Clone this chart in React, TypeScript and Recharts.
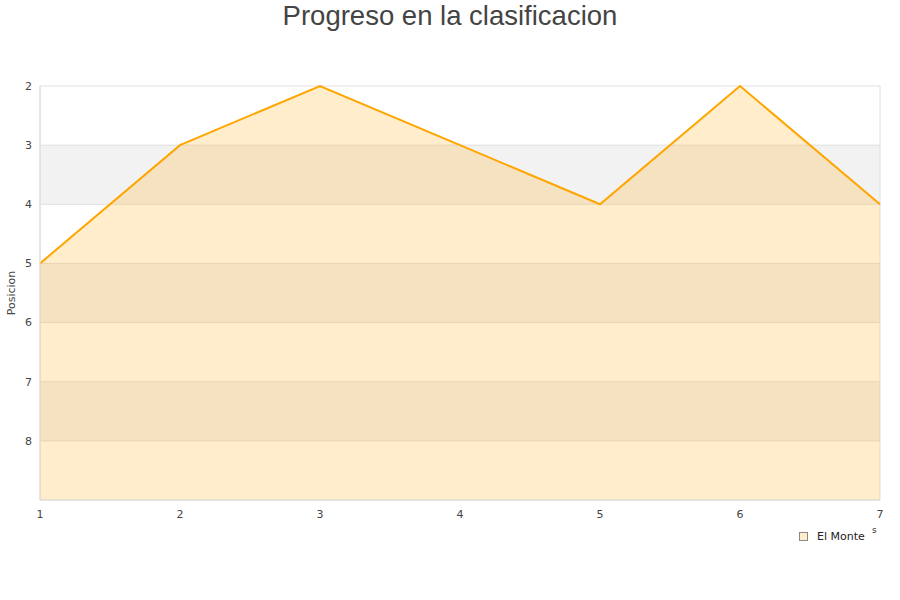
import { AreaChart, Area, XAxis, YAxis, CartesianGrid } from "recharts";

const jornadas = [1, 2, 3, 4, 5, 6, 7];
const posiciones = [5, 3, 2, 3, 4, 2, 4];
const yTicks = [2, 3, 4, 5, 6, 7, 8];

const data = jornadas.map((j, i) => ({ jornada: j, pos: posiciones[i] }));

const tickStyle = { fill: '#444', fontSize: 11, fontFamily: 'DejaVu Sans' };

const App = () => {
  return (
    <div style={{ position: 'absolute', left: 0, top: 0, width: 900, height: 600, background: '#fff' }}>
      <div
        style={{
          position: 'absolute',
          left: 0,
          top: 0,
          width: 900,
          textAlign: 'center',
          fontFamily: 'Liberation Sans',
          fontSize: 27.5,
          color: '#444',
          lineHeight: '32px',
        }}
      >
        Progreso en la clasificacion
      </div>
      <AreaChart width={900} height={600} data={data} margin={{ top: 86, right: 20, left: 0, bottom: 70 }}>
        <CartesianGrid
          yAxisId="l"
          stroke="#e0e0e0"
          horizontalFill={['transparent', '#f2f2f2']}
          fillOpacity={1}
          verticalCoordinatesGenerator={({ offset }: any) => [offset.left, offset.left + offset.width]}
        />
        <XAxis
          dataKey="jornada"
          type="number"
          domain={[1, 7]}
          ticks={jornadas}
          tickLine={false}
          axisLine={{ stroke: '#dcdcdc' }}
          tick={tickStyle}
          tickMargin={4}
          height={30}
        />
        <YAxis
          yAxisId="l"
          reversed
          domain={[2, 9]}
          ticks={yTicks}
          interval={0}
          tickLine={false}
          axisLine={{ stroke: '#dcdcdc' }}
          tick={tickStyle}
          width={40}
          label={{
            value: 'Posicion',
            angle: -90,
            position: 'insideLeft',
            offset: 11,
            style: { textAnchor: 'middle', fill: '#444', fontSize: 11, fontFamily: 'DejaVu Sans' },
          }}
        />
        <Area
          yAxisId="l"
          type="linear"
          dataKey="pos"
          baseValue={9}
          stroke="#ffa500"
          strokeWidth={2}
          fill="#ffa500"
          fillOpacity={0.2}
          dot={false}
          activeDot={false}
          isAnimationActive={false}
        />
      </AreaChart>
      <div
        style={{
          position: 'absolute',
          left: 799,
          top: 530,
          display: 'flex',
          alignItems: 'center',
          fontFamily: 'DejaVu Sans',
          fontSize: 11,
          color: '#222',
        }}
      >
        <div style={{ width: 7, height: 7, background: '#ffedcc', border: '1px solid #888', marginRight: 9 }} />
        <span>El Monte</span>
      </div>
      <div
        style={{ position: 'absolute', left: 872, top: 525, fontFamily: 'DejaVu Sans', fontSize: 9, color: '#333' }}
      >
        s
      </div>
    </div>
  );
};

export default App;
